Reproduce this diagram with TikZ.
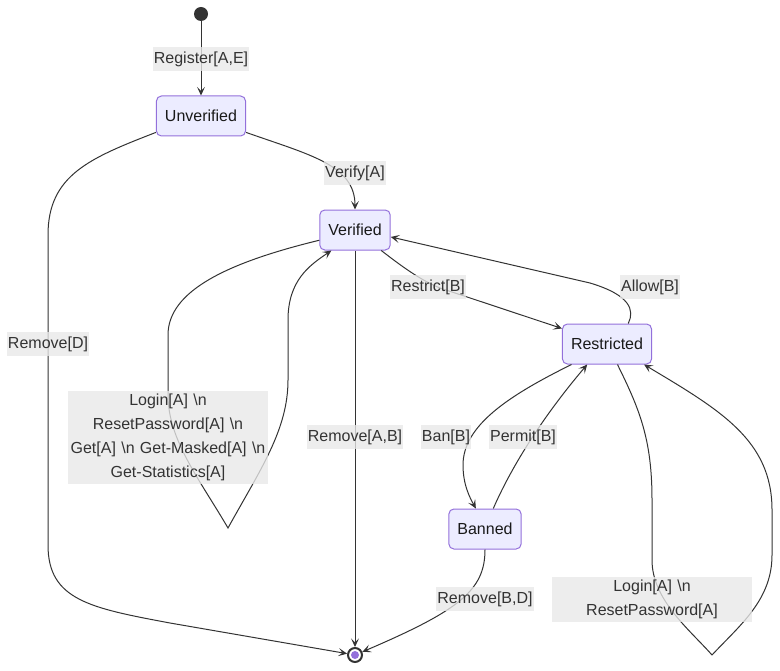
\documentclass[tikz,border=0pt]{standalone}
\usepackage{fontspec}
\setmainfont{Liberation Sans}
\usetikzlibrary{arrows.meta}
\definecolor{stfill}{HTML}{ECECFF}
\definecolor{stdraw}{HTML}{9370DB}
\definecolor{ink}{HTML}{333333}
\definecolor{lblfill}{HTML}{E8E8E8}
\tikzset{
  state/.style={draw=stdraw, fill=stfill, line width=0.75pt, rounded corners=3.75pt,
    minimum height=30pt, inner xsep=6.4pt, inner ysep=0pt, font=\fontsize{12}{14}\selectfont, text=black!90},
  edge/.style={draw=ink, line width=0.75pt, -{Stealth[length=6.5pt,width=6pt,inset=3pt]}},
  lbl/.style={fill=lblfill, fill opacity=0.78, text opacity=1, text=ink, inner xsep=1pt, inner ysep=0pt,
    minimum height=18pt, font=\fontsize{12}{18}\selectfont, yshift=-1pt},
  mlbl/.style={lbl, text width=148pt, align=center, inner ysep=2pt, font=\fontsize{12}{18.2}\selectfont},
}
\begin{document}
\begin{tikzpicture}[x=0.75pt,y=-0.75pt]
\useasboundingbox (0,0) rectangle (780,670);
% states
\node[circle, fill=ink, minimum size=10.5pt, inner sep=0pt] (S) at (201,14) {};
\node[state] (U) at (201,116) {Unverified};
\node[state] (V) at (355,230) {Verified};
\node[state] (R) at (607,344) {Restricted};
\node[state] (B) at (485,529) {Banned};
\node[circle, draw=ink, fill=white, line width=1.5pt, minimum size=10.5pt, inner sep=0pt] (E) at (355,655) {};
\fill[stdraw] (E.center) circle (3pt);
% connectors
\draw[edge] (S) -- (U);
\draw[edge] (U.-20) .. controls (310,155) and (355,165) .. (V.north);
\draw[edge] (U.200) .. controls (90,158) and (48,175) .. (48,235) -- (48,545)
   .. controls (48,600) and (90,608) .. (170,623) -- (E);
\draw[edge] (V.south) -- (E);
\coordinate (vtip) at (228,528);
\draw[edge] (V.196) .. controls (230,262) and (168,290) .. (168,335) -- (168,395)
   .. controls (168,440) and (200,480) .. (vtip)
   .. controls (260,470) and (288,430) .. (288,380) -- (288,320)
   .. controls (288,280) and (310,265) .. (V.221);
\draw[edge] (V.-38) .. controls (400,265) and (420,280) .. (440,288) -- (R.161);
\draw[edge] (R.44) .. controls (635,310) and (630,295) .. (590,283) -- (V.-11);
\draw[edge] (R.210) .. controls (510,395) and (463,425) .. (463,465)
   .. controls (463,485) and (470,498) .. (B.114);
\draw[edge] (B.68) .. controls (510,470) and (540,420) .. (R.226);
\draw[edge] (B.south) .. controls (485,590) and (460,610) .. (E);
\coordinate (rtip) at (712,655);
\draw[edge] (R.-63) .. controls (640,410) and (652,440) .. (652,500) -- (652,560)
   .. controls (652,600) and (690,630) .. (rtip)
   .. controls (740,625) and (772,600) .. (772,555) -- (772,510)
   .. controls (772,440) and (720,410) .. (R.-29);
% labels
\node[lbl] (l1) at (201,58) {Register[A,E]};
\node[lbl] (l2) at (355,172) {Verify[A]};
\node[lbl] (l3) at (48,343) {Remove[D]};
\node[lbl] (l4) at (355,436) {Remove[A,B]};
\node[mlbl] (l5) at (168,436) {Login[A] \textbackslash n\\ResetPassword[A] \textbackslash n\\Get[A] \textbackslash n Get-Masked[A] \textbackslash n\\Get-Statistics[A]};
\node[lbl] (l6) at (428,286) {Restrict[B]};
\node[lbl] (l7) at (650,286) {Allow[B]};
\node[lbl] (l8) at (446,436) {Ban[B]};
\node[lbl] (l9) at (523,436) {Permit[B]};
\node[lbl] (l10) at (485,598) {Remove[B,D]};
\node[mlbl] (l11) at (652,598) {Login[A] \textbackslash n\\ResetPassword[A]};
\end{tikzpicture}
\end{document}
